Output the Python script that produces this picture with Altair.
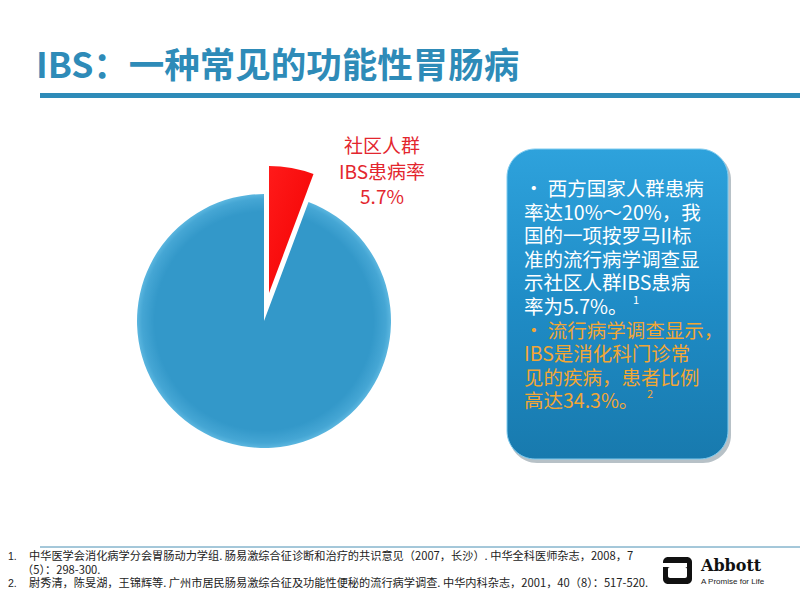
import altair as alt
import pandas as pd

# ---------------- data ----------------
title_text = "IBS：一种常见的功能性胃肠病"
pie_groups = ["社区人群IBS患病率", "其他人群"]
pie_values = [5.7, 94.3]
pie_order = [0, 1]
callout_lines = ["社区人群", "IBS患病率", "5.7%"]
box_white_lines = ["•  西方国家人群患病", "率达10%～20%，我", "国的一项按罗马II标",
                   "准的流行病学调查显", "示社区人群IBS患病", "率为5.7%。"]
box_orange_lines = ["•  流行病学调查显示，", "IBS是消化科门诊常",
                    "见的疾病，患者比例", "高达34.3%。"]
ref_numbers = ["1.", "", "2."]
ref_lines = ["中华医学会消化病学分会胃肠动力学组. 肠易激综合征诊断和治疗的共识意见（2007，长沙）. 中华全科医师杂志，2008，7",
             "（5）：298-300.",
             "尉秀清，陈旻湖，王锦辉等. 广州市居民肠易激综合征及功能性便秘的流行病学调查. 中华内科杂志，2001，40（8）：517-520."]
brand = ["Abbott", "A Promise for Life"]

CJK = "Noto Sans CJK SC"
one = pd.DataFrame({"k": [0]})

# ---------------- title & rules ----------------
title = alt.Chart(one).mark_text(
    text=title_text, font=CJK, fontSize=35.5, fontWeight="bold", color="#2E8BB8",
    align="left", baseline="middle"
).encode(x=alt.value(36), y=alt.value(67))

title_bar = alt.Chart(one).mark_rect(color="#2E8BB8").encode(
    x=alt.value(40), x2=alt.value(800), y=alt.value(93), y2=alt.value(98))

foot_rule = alt.Chart(one).mark_rule(color="#4A90B4", strokeWidth=1).encode(
    x=alt.value(40), x2=alt.value(800), y=alt.value(547))

# ---------------- pie ----------------
pie_df = pd.DataFrame({"group": pie_groups, "value": pie_values, "order": pie_order})
pie_base = alt.Chart(pie_df).encode(
    theta=alt.Theta("value:Q", stack=True),
    order=alt.Order("order:Q"),
)
blue_fill = alt.RadialGradient(
    gradient="radial",
    stops=[alt.GradientStop(color="#3398C9", offset=0),
           alt.GradientStop(color="#3398C9", offset=0.86),
           alt.GradientStop(color="#45A6D4", offset=0.96),
           alt.GradientStop(color="#5BB6DF", offset=1)],
    x1=0.5, y1=0.5, r1=0, x2=0.5, y2=0.5, r2=0.5)
red_fill = alt.LinearGradient(
    gradient="linear",
    stops=[alt.GradientStop(color="#FF1A1A", offset=0),
           alt.GradientStop(color="#F20000", offset=1)],
    x1=0, y1=0, x2=1, y2=1)

pie_blue = pie_base.mark_arc(outerRadius=127, fill=blue_fill).encode(
    x=alt.value(264), y=alt.value(321),
    opacity=alt.when(alt.datum.order == 1).then(alt.value(1)).otherwise(alt.value(0)))
pie_red = pie_base.mark_arc(outerRadius=127, fill=red_fill).encode(
    x=alt.value(269), y=alt.value(293),
    opacity=alt.when(alt.datum.order == 0).then(alt.value(1)).otherwise(alt.value(0)))

callout_df = pd.DataFrame({"t": callout_lines, "y": [147 + 25.5 * i for i in range(len(callout_lines))]})
callout = alt.Chart(callout_df).mark_text(
    font=CJK, fontSize=19, color="#E3262E", align="center", baseline="middle"
).encode(x=alt.value(382), y=alt.Y("y:Q", scale=None), text="t:N")

# ---------------- text box ----------------
box_shadow = alt.Chart(one).mark_rect(cornerRadius=28, color="#7C8E99", opacity=0.55).encode(
    x=alt.value(509), x2=alt.value(731), y=alt.value(152), y2=alt.value(463))
box_fill = alt.LinearGradient(
    gradient="linear",
    stops=[alt.GradientStop(color="#2EA2DC", offset=0),
           alt.GradientStop(color="#1F8CC6", offset=0.5),
           alt.GradientStop(color="#187AAE", offset=1)],
    x1=0, y1=0, x2=0, y2=1)
box = alt.Chart(one).mark_rect(cornerRadius=28, fill=box_fill, stroke="#7FCBEF", strokeWidth=1).encode(
    x=alt.value(507), x2=alt.value(728), y=alt.value(149), y2=alt.value(459))

LS = 23.6
white_df = pd.DataFrame({"t": box_white_lines, "y": [190 + LS * i for i in range(len(box_white_lines))]})
orange_df = pd.DataFrame({"t": box_orange_lines,
                          "y": [190 + LS * (i + len(box_white_lines)) for i in range(len(box_orange_lines))]})
white_txt = alt.Chart(white_df).mark_text(
    font=CJK, fontSize=19.5, color="#FFFFFF", align="left", baseline="middle"
).encode(x=alt.value(524), y=alt.Y("y:Q", scale=None), text="t:N")
orange_txt = alt.Chart(orange_df).mark_text(
    font=CJK, fontSize=19.5, color="#F2A634", align="left", baseline="middle"
).encode(x=alt.value(524), y=alt.Y("y:Q", scale=None), text="t:N")
sup1 = alt.Chart(one).mark_text(text="1", font=CJK, fontSize=11, color="#FFFFFF",
                                align="left", baseline="middle").encode(
    x=alt.value(633), y=alt.value(190 + LS * 5 - 7))
sup2 = alt.Chart(one).mark_text(text="2", font=CJK, fontSize=11, color="#F2A634",
                                align="left", baseline="middle").encode(
    x=alt.value(647), y=alt.value(190 + LS * 9 - 7))

# ---------------- references ----------------
ref_df = pd.DataFrame({"n": ref_numbers, "t": ref_lines,
                       "y": [557 + 13.5 * i for i in range(len(ref_lines))],
                       "x": [29, 22, 29]})
ref_txt = alt.Chart(ref_df).mark_text(
    font=CJK, fontSize=11.2, color="#222222", align="left", baseline="middle"
).encode(x=alt.X("x:Q", scale=None), y=alt.Y("y:Q", scale=None), text="t:N")
ref_num = alt.Chart(ref_df).mark_text(
    font="Liberation Sans", fontSize=10.5, color="#222222", align="left", baseline="middle"
).encode(x=alt.value(8), y=alt.Y("y:Q", scale=None), text="n:N")

# ---------------- Abbott logo ----------------
logo_outer = alt.Chart(one).mark_rect(color="#111111", cornerRadius=5).encode(
    x=alt.value(663), x2=alt.value(692), y=alt.value(557), y2=alt.value(584))
logo_slot = alt.Chart(one).mark_rect(color="#FFFFFF").encode(
    x=alt.value(662), x2=alt.value(687), y=alt.value(563), y2=alt.value(567))
logo_inner = alt.Chart(one).mark_rect(color="#FFFFFF", cornerRadius=2).encode(
    x=alt.value(668), x2=alt.value(687), y=alt.value(567), y2=alt.value(578))
brand_name = alt.Chart(one).mark_text(
    text=brand[0], font="DejaVu Serif", fontWeight="bold", fontSize=16, color="#111111",
    align="left", baseline="middle").encode(x=alt.value(701), y=alt.value(566))
brand_tag = alt.Chart(one).mark_text(
    text=brand[1], font="Liberation Sans", fontSize=8, color="#222222",
    align="left", baseline="middle").encode(x=alt.value(701), y=alt.value(582))

chart = alt.layer(
    title, title_bar, foot_rule,
    pie_blue, pie_red, callout,
    box_shadow, box, white_txt, orange_txt, sup1, sup2,
    ref_txt, ref_num,
    logo_outer, logo_slot, logo_inner, brand_name, brand_tag,
).resolve_scale(theta="shared").properties(
    width=800, height=600, padding=0, autosize=alt.AutoSizeParams(type="none"),
    background="#FFFFFF"
).configure_view(stroke=None)

chart.save("out.html", embed_options={"renderer": "svg", "actions": False})
